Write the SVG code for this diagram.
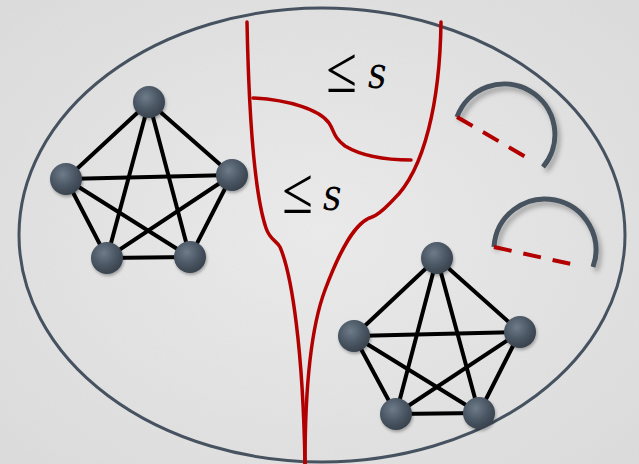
<svg xmlns="http://www.w3.org/2000/svg" width="639" height="464" viewBox="0 0 639 464">
<defs>
<radialGradient id="bg" cx="50%" cy="50%" r="70%">
<stop offset="0" stop-color="#ececec"/>
<stop offset="1" stop-color="#dcdcdc"/>
</radialGradient>
<radialGradient id="ball" cx="40%" cy="35%" r="65%">
<stop offset="0" stop-color="#6e7b89"/>
<stop offset="0.6" stop-color="#4a5663"/>
<stop offset="1" stop-color="#39434e"/>
</radialGradient>
<filter id="noise" x="0" y="0" width="100%" height="100%">
<feTurbulence type="fractalNoise" baseFrequency="0.7" numOctaves="2" seed="3"/>
<feColorMatrix type="matrix" values="0 0 0 0 0.5  0 0 0 0 0.5  0 0 0 0 0.5  0 0 0 0.25 0"/>
</filter>
<filter id="sh" x="-30%" y="-30%" width="160%" height="160%">
<feDropShadow dx="3" dy="4" stdDeviation="2.5" flood-color="#000" flood-opacity="0.3"/>
</filter>
<filter id="nsh" x="-30%" y="-30%" width="160%" height="160%">
<feDropShadow dx="1" dy="2" stdDeviation="1.5" flood-color="#000" flood-opacity="0.3"/>
</filter>
</defs>
<style>
.edge{stroke:#000;stroke-width:4;stroke-linecap:round;fill:none}
.node{fill:url(#ball);filter:url(#nsh)}
.red{stroke:#b20000;stroke-width:3.5;fill:none;stroke-linecap:round}
.dash{stroke:#b20000;stroke-width:4;fill:none;stroke-dasharray:18 12}
.arc{stroke:#46525f;stroke-width:5;fill:none;filter:url(#sh)}
.le{font-family:'Liberation Serif',serif;font-size:66px}
.sv{font-family:'DejaVu Serif',serif;font-size:45px;font-style:italic}
</style>
<rect width="639" height="464" fill="url(#bg)"/>
<rect width="639" height="464" filter="url(#noise)" opacity="0.35"/>
<ellipse id="region" cx="322" cy="235" rx="303" ry="227" fill="none" stroke="#46525f" stroke-width="3"/>
<g id="separator">
<path class="red" d="M247,22 C249,120 255,195 266,228 C270,240 276,240 280,247 C292,275 303,350 305,464"/>
<path class="red" d="M441,22 C440,100 425,170 393,200 C385,208 380,214 372,217 C355,222 340,250 325,290 C310,330 305,400 305,464"/>
<path class="red" d="M253,98 C290,100 320,110 329,123 C335,132 333,137 345,146 C365,158 395,160 411,160"/>
</g>
<g id="labels" fill="#000">
<text class="le" transform="translate(326,92) scale(0.85,1)">≤</text><text class="sv" transform="translate(368,88) scale(0.8,1)">s</text>
<text class="le" transform="translate(282,213) scale(0.85,1)">≤</text><text class="sv" transform="translate(323,210) scale(0.8,1)">s</text>
</g>
<g id="half-circles">
<path class="arc" d="M457,117 A50.5,50.5 0 1 1 543,167"/>
<line class="dash" x1="457" y1="117" x2="531" y2="160"/>
<path class="arc" d="M494,247 A51,51 0 1 1 593,267"/>
<line class="dash" x1="494" y1="247" x2="580" y2="266"/>
</g>
<g id="connectors">
<g id="k5-left">
<line class="edge" x1="149" y1="102" x2="66" y2="179"/>
<line class="edge" x1="149" y1="102" x2="232" y2="175"/>
<line class="edge" x1="149" y1="102" x2="107" y2="258"/>
<line class="edge" x1="149" y1="102" x2="190" y2="257"/>
<line class="edge" x1="66" y1="179" x2="232" y2="175"/>
<line class="edge" x1="66" y1="179" x2="107" y2="258"/>
<line class="edge" x1="66" y1="179" x2="190" y2="257"/>
<line class="edge" x1="232" y1="175" x2="107" y2="258"/>
<line class="edge" x1="232" y1="175" x2="190" y2="257"/>
<line class="edge" x1="107" y1="258" x2="190" y2="257"/>
</g>
<g id="k5-right">
<line class="edge" x1="437" y1="258" x2="354" y2="336"/>
<line class="edge" x1="437" y1="258" x2="520" y2="332"/>
<line class="edge" x1="437" y1="258" x2="396" y2="414"/>
<line class="edge" x1="437" y1="258" x2="479" y2="413"/>
<line class="edge" x1="354" y1="336" x2="520" y2="332"/>
<line class="edge" x1="354" y1="336" x2="396" y2="414"/>
<line class="edge" x1="354" y1="336" x2="479" y2="413"/>
<line class="edge" x1="520" y1="332" x2="396" y2="414"/>
<line class="edge" x1="520" y1="332" x2="479" y2="413"/>
<line class="edge" x1="396" y1="414" x2="479" y2="413"/>
</g>
</g>
<g id="a1"><circle class="node" cx="149" cy="102" r="16"/></g>
<g id="a2"><circle class="node" cx="66" cy="179" r="16"/></g>
<g id="a3"><circle class="node" cx="232" cy="175" r="16"/></g>
<g id="a4"><circle class="node" cx="107" cy="258" r="16"/></g>
<g id="a5"><circle class="node" cx="190" cy="257" r="16"/></g>
<g id="b1"><circle class="node" cx="437" cy="258" r="16"/></g>
<g id="b2"><circle class="node" cx="354" cy="336" r="16"/></g>
<g id="b3"><circle class="node" cx="520" cy="332" r="16"/></g>
<g id="b4"><circle class="node" cx="396" cy="414" r="16"/></g>
<g id="b5"><circle class="node" cx="479" cy="413" r="16"/></g>
</svg>
